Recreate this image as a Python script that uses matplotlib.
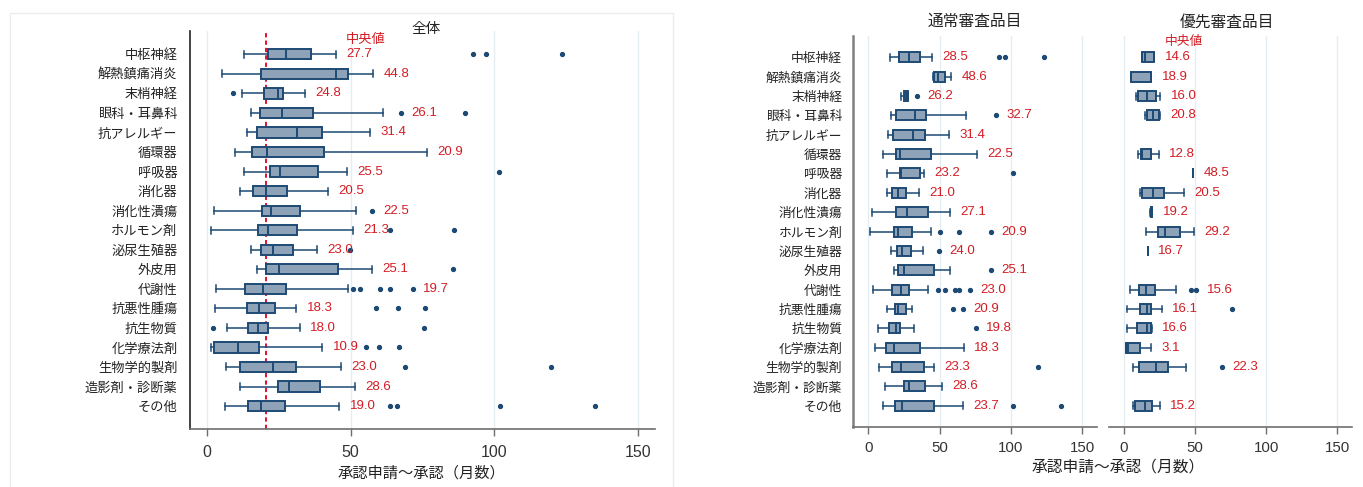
"""Approval lead time (application to approval, months) by therapeutic category."""

import matplotlib.pyplot as plt
from matplotlib.patches import Rectangle

CATEGORIES = [
    "中枢神経", "解熱鎮痛消炎", "末梢神経", "眼科・耳鼻科", "抗アレルギー",
    "循環器", "呼吸器", "消化器", "消化性潰瘍", "ホルモン剤",
    "泌尿生殖器", "外皮用", "代謝性", "抗悪性腫瘍", "抗生物質",
    "化学療法剤", "生物学的製剤", "造影剤・診断薬", "その他",
]
TICKS = [0, 50, 100, 150]
OVERALL_MEDIAN = 20.7

# 全体
ALL_LO = [13.1, 5.2, 12.2, 15.4, 13.9, 9.8, 12.9, 11.6, 2.5, 1.4,
          15.4, 17.6, 3.2, 2.9, 7.0, 1.5, 6.7, 11.6, 6.4]
ALL_Q1 = [21.2, 18.9, 19.9, 18.5, 17.6, 15.9, 22.0, 16.2, 19.2, 18.0,
          18.9, 20.7, 13.2, 13.9, 14.5, 2.7, 11.6, 24.8, 14.3]
ALL_MED = [27.7, 44.8, 24.8, 26.1, 31.4, 20.9, 25.5, 20.5, 22.5, 21.3,
           23.0, 25.1, 19.7, 18.3, 18.0, 10.9, 23.0, 28.6, 19.0]
ALL_Q3 = [36.3, 49.2, 26.4, 37.1, 40.0, 40.9, 38.6, 27.8, 32.4, 31.3,
          30.0, 45.8, 27.6, 23.9, 21.4, 18.1, 31.1, 39.4, 27.2]
ALL_HI = [44.8, 57.9, 34.2, 61.2, 56.8, 76.6, 48.7, 42.1, 51.8, 50.8,
          38.2, 57.4, 49.1, 31.1, 32.4, 40.1, 46.6, 51.4, 46.1]
ALL_FLIERS = [
    [92.5, 96.9, 123.6], [], [9.3], [67.6, 89.8], [], [], [101.7], [],
    [57.6], [63.7, 86.1], [49.7], [85.5], [51.0, 53.4, 60.3, 63.7, 71.6],
    [59.0, 66.4, 75.9], [2.3, 75.6], [55.3, 59.9, 66.7], [68.9, 119.6], [],
    [63.7, 66.0, 102.0, 135.1],
]

# 通常審査品目
STD_LO = [15.2, 45.1, 22.7, 15.7, 13.6, 10.7, 12.9, 12.9, 2.8, 1.6,
          15.7, 17.8, 3.5, 13.3, 7.2, 4.7, 7.9, 11.7, 10.7]
STD_Q1 = [21.7, 46.0, 25.0, 19.2, 17.5, 19.4, 22.2, 16.8, 19.4, 18.0,
          19.9, 20.8, 16.6, 18.5, 14.7, 12.6, 16.8, 25.0, 18.5]
STD_MED = [28.5, 48.6, 26.2, 32.7, 31.4, 22.5, 23.2, 21.0, 27.1, 20.9,
           24.0, 25.1, 23.0, 20.9, 19.8, 18.3, 23.3, 28.6, 23.7]
STD_Q3 = [36.2, 53.7, 27.6, 40.4, 40.0, 43.7, 36.2, 26.2, 42.1, 30.8,
          29.7, 46.0, 28.7, 26.2, 22.4, 36.2, 39.0, 39.5, 46.3]
STD_HI = [44.9, 57.9, 28.0, 68.2, 56.8, 76.4, 38.8, 35.3, 57.2, 43.7,
          38.3, 57.2, 41.6, 30.8, 32.0, 67.1, 46.0, 51.6, 66.6]
STD_FLIERS = [
    [91.8, 96.0, 123.4], [], [34.1], [89.5], [], [], [101.6], [], [],
    [50.2, 63.6, 86.0], [49.5], [85.7], [49.1, 53.5, 60.5, 63.3, 71.3],
    [59.1, 66.4], [75.5], [], [119.2], [], [101.6, 134.8],
]

# 優先審査品目 (None = 該当なし)
PRI_LO = [13.1, 4.9, 8.7, 15.2, None, 9.8, 48.5, 11.5, 18.4, 15.7,
          16.7, None, 4.0, 2.5, 2.5, 1.4, 6.8, None, 6.3]
PRI_Q1 = [13.1, 4.9, 10.3, 16.2, None, 12.4, 48.5, 13.1, 18.8, 23.9,
          16.7, None, 11.0, 11.5, 9.1, 1.6, 11.0, None, 8.2]
PRI_MED = [14.6, 18.9, 16.0, 20.8, None, 12.8, 48.5, 20.5, 19.2, 29.2,
           16.7, None, 15.6, 16.1, 16.6, 3.1, 22.3, None, 15.2]
PRI_Q3 = [21.5, 19.4, 22.5, 24.8, None, 19.2, 48.5, 27.9, 19.6, 39.1,
          16.7, None, 22.0, 19.4, 19.2, 11.5, 30.9, None, 19.5]
PRI_HI = [21.5, 19.4, 25.5, 25.5, None, 24.4, 48.5, 42.2, 19.9, 49.2,
          16.7, None, 36.6, 26.7, 19.5, 19.4, 43.6, None, 25.1]
PRI_FLIERS = [
    [], [], [], [], [], [], [], [], [], [], [], [], [47.1, 50.9], [75.7],
    [], [], [68.9], [], [],
]

# how many upper outliers each median label is pushed past
ALL_LABEL_CLEARS = [0, 0, 0, 1, 0, 0, 0, 0, 1, 0, 0, 0, 5, 0, 0, 0, 0, 0, 0]
STD_LABEL_CLEARS = [0, 0, 1, 1, 0, 0, 0, 0, 0, 3, 1, 1, 5, 2, 1, 0, 0, 0, 0]
PRI_LABEL_CLEARS = [0, 0, 0, 0, 0, 0, 0, 0, 0, 0, 0, 0, 2, 0, 0, 0, 1, 0, 0]

BOX_FACE = "#8ea2b8"
BOX_EDGE = "#1d4a74"
RED = "#d41c24"
GRID = "#e4edf1"
CJK = ["Noto Sans CJK JP", "DejaVu Sans"]
NUM = ["Liberation Sans", "Noto Sans CJK JP"]

W, H = 1363, 487


def draw_panel(ax, lo, q1, med, q3, hi, fliers, clears, ylim):
    stats, pos = [], []
    for i in range(len(CATEGORIES)):
        if med[i] is None:
            continue
        stats.append(dict(whislo=lo[i], q1=q1[i], med=med[i], q3=q3[i],
                          whishi=hi[i], fliers=fliers[i]))
        pos.append(i)

    ax.bxp(
        stats, positions=pos, orientation="horizontal", widths=0.52,
        capwidths=0.36, patch_artist=True,
        boxprops=dict(facecolor=BOX_FACE, edgecolor=BOX_EDGE, linewidth=1.4),
        medianprops=dict(color=BOX_EDGE, linewidth=1.4),
        whiskerprops=dict(color=BOX_EDGE, linewidth=1.1),
        capprops=dict(color=BOX_EDGE, linewidth=1.1),
        flierprops=dict(marker="o", markersize=2.8, markerfacecolor=BOX_EDGE,
                        markeredgecolor=BOX_EDGE),
    )

    # median value printed to the right of each box
    for i, s in zip(pos, stats):
        upper = sorted(f for f in s["fliers"] if f > s["whishi"])
        anchor = max([s["whishi"]] + upper[:clears[i]])
        ax.annotate(f"{s['med']:.1f}", xy=(anchor, i), xytext=(7.5, 0),
                    textcoords="offset points", ha="left", va="center",
                    color=RED, fontsize=9.5, family=NUM)

    ax.set_ylim(*ylim)
    ax.set_xticks(TICKS)
    ax.set_yticks(range(len(CATEGORIES)))
    ax.xaxis.grid(True, color=GRID, linewidth=1.0)
    ax.set_axisbelow(True)
    for side in ("top", "right"):
        ax.spines[side].set_visible(False)
    ax.spines["bottom"].set_color("#6e6e6e")
    ax.spines["bottom"].set_linewidth(1.2)
    ax.tick_params(axis="y", length=0)
    ax.tick_params(axis="x", length=5, width=1.0, color="#6e6e6e",
                   labelcolor="#333333")
    for lab in ax.get_xticklabels():
        lab.set_family(NUM)


def main():
    plt.rcParams["font.family"] = NUM
    fig = plt.figure(figsize=(W / 100, H / 100), dpi=100)

    # faint frame around the 全体 panel
    fig.add_artist(Rectangle((9.5 / W, -0.01), 663 / W, 1.01 - 13.3 / H,
                             transform=fig.transFigure, fill=False,
                             edgecolor="#ececec", linewidth=1.0))

    ax0 = fig.add_axes([190 / W, 57.7 / H, 465 / W, 398.6 / H])
    ax0.axvline(OVERALL_MEDIAN, color="#e0102f", linestyle=(0, (2.2, 1.6)),
                linewidth=1.4, zorder=1)
    draw_panel(ax0, ALL_LO, ALL_Q1, ALL_MED, ALL_Q3, ALL_HI, ALL_FLIERS,
               ALL_LABEL_CLEARS, (19.19, -1.21))
    ax0.set_xlim(-5.8, 155.8)
    ax0.spines["left"].set_color("#222222")
    ax0.spines["left"].set_linewidth(1.2)
    ax0.set_yticklabels(CATEGORIES, family=CJK, fontsize=9.5, color="#222222")
    ax0.tick_params(axis="y", pad=9)
    ax0.tick_params(axis="x", labelsize=11.5, pad=6)
    ax0.annotate("中央値", xy=(ALL_HI[0], -0.78), xytext=(7.5, 0),
                 textcoords="offset points", ha="left", va="center",
                 color=RED, fontsize=9.5, family=CJK)
    fig.text(426 / W, 1 - 29 / H, "全体", ha="center", va="center",
             fontsize=10.5, family=CJK, color="#222222")
    fig.text(421 / W, 1 - 472.7 / H, "承認申請～承認（月数）", ha="center",
             va="center", fontsize=11, family=CJK, color="#222222")

    ax1 = fig.add_axes([853.3 / W, 60.3 / H, 243.4 / W, 390.7 / H])
    draw_panel(ax1, STD_LO, STD_Q1, STD_MED, STD_Q3, STD_HI, STD_FLIERS,
               STD_LABEL_CLEARS, (19.08, -1.1))
    ax1.set_xlim(-10.4, 160)
    ax1.spines["left"].set_color("#808080")
    ax1.spines["left"].set_linewidth(1.8)
    ax1.set_yticklabels(CATEGORIES, family=CJK, fontsize=9.2, color="#222222")
    ax1.tick_params(axis="y", pad=8)
    ax1.tick_params(axis="x", labelsize=10.8, pad=5)
    fig.text(975 / W, 1 - 21.7 / H, "通常審査品目", ha="center", va="center",
             fontsize=11.3, family=CJK, color="#222222")

    ax2 = fig.add_axes([1109 / W, 60.3 / H, 242.7 / W, 390.7 / H])
    draw_panel(ax2, PRI_LO, PRI_Q1, PRI_MED, PRI_Q3, PRI_HI, PRI_FLIERS,
               PRI_LABEL_CLEARS, (19.08, -1.1))
    ax2.set_xlim(-10.4, 160)
    ax2.spines["left"].set_visible(False)
    ax2.set_yticklabels([])
    ax2.tick_params(axis="x", labelsize=10.8, pad=5)
    ax2.annotate("中央値", xy=(PRI_HI[0], -0.8), xytext=(7.5, 0),
                 textcoords="offset points", ha="left", va="center",
                 color=RED, fontsize=9.2, family=CJK)
    fig.text(1227 / W, 1 - 21.7 / H, "優先審査品目", ha="center", va="center",
             fontsize=11.3, family=CJK, color="#222222")
    fig.text(1118 / W, 1 - 467 / H, "承認申請～承認（月数）", ha="center",
             va="center", fontsize=11.3, family=CJK, color="#222222")

    fig.savefig("out.png", dpi=100)
    plt.close(fig)


if __name__ == "__main__":
    main()
